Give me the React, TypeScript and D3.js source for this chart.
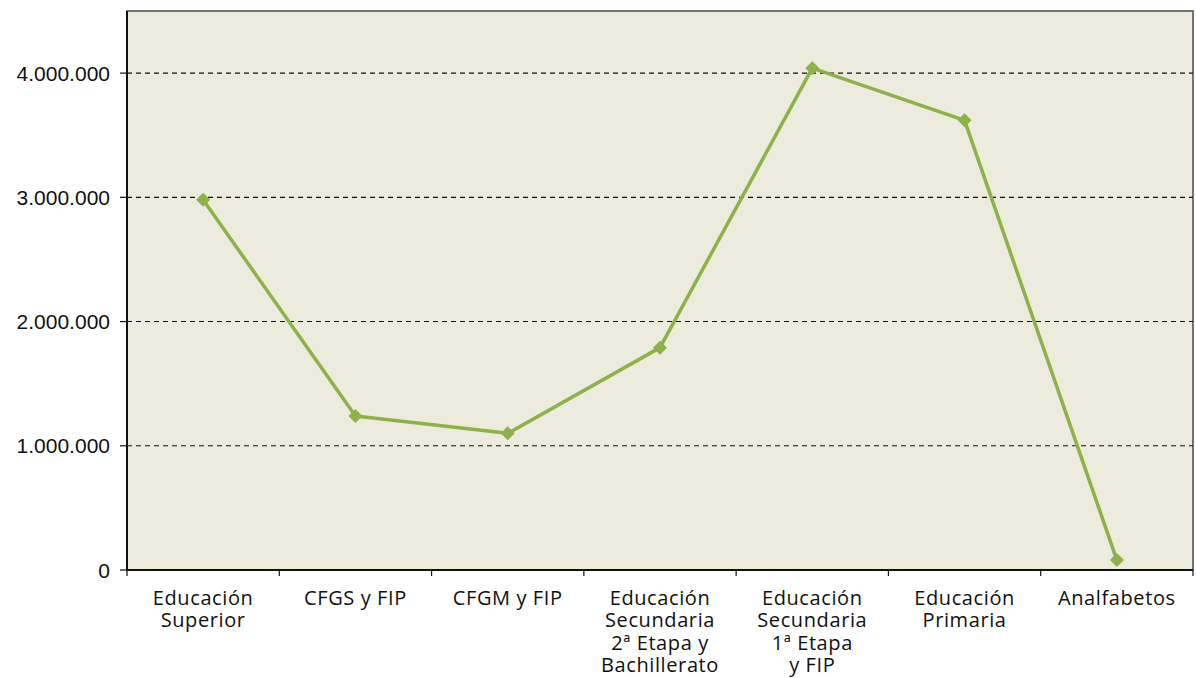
import * as d3 from 'd3'

const WIDTH = 1196
const HEIGHT = 678
const MARGIN = { top: 11, right: 3, bottom: 108, left: 127 }

const CATEGORIES = [
  ['Educación', 'Superior'],
  ['CFGS y FIP'],
  ['CFGM y FIP'],
  ['Educación', 'Secundaria', '2ª Etapa y', 'Bachillerato'],
  ['Educación', 'Secundaria', '1ª Etapa', 'y FIP'],
  ['Educación', 'Primaria'],
  ['Analfabetos'],
]
const VALUES = [2980000, 1240000, 1100000, 1790000, 4040000, 3620000, 80000]
const Y_TICKS = [0, 1000000, 2000000, 3000000, 4000000]

const GREEN = '#8db14b'

const fmt = (v: number) => (v === 0 ? '0' : d3.format(',')(v).replace(/,/g, '.'))

export default function App() {
  const innerW = WIDTH - MARGIN.left - MARGIN.right
  const innerH = HEIGHT - MARGIN.top - MARGIN.bottom
  const keys = CATEGORIES.map((_, i) => String(i))

  const x = d3.scaleBand().domain(keys).range([MARGIN.left, MARGIN.left + innerW])
  const y = d3.scaleLinear().domain([0, 4500000]).range([MARGIN.top + innerH, MARGIN.top])

  const line = d3.line<number>()
    .x((_, i) => (x(String(i)) as number) + x.bandwidth() / 2)
    .y(d => y(d))

  const bottom = y(0)

  return (
    <svg width={WIDTH} height={HEIGHT} style={{ position: 'absolute', left: 0, top: 0 }}>
      <rect x={MARGIN.left} y={MARGIN.top} width={innerW} height={innerH} fill="#ecebdd" stroke="#4a4a4a" strokeWidth={1.5} />

      {/* grid */}
      {Y_TICKS.filter(t => t > 0).map(t => (
        <line key={t} x1={MARGIN.left} x2={MARGIN.left + innerW} y1={y(t)} y2={y(t)}
          stroke="#111" strokeWidth={1.1} strokeDasharray="5,4" />
      ))}

      {/* y axis */}
      <line x1={MARGIN.left} x2={MARGIN.left} y1={MARGIN.top} y2={bottom} stroke="#111" strokeWidth={2} />
      {Y_TICKS.map(t => (
        <g key={`yt-${t}`}>
          <line x1={MARGIN.left - 7} x2={MARGIN.left} y1={y(t)} y2={y(t)} stroke="#111" strokeWidth={1.2} />
          <text x={MARGIN.left - 17} y={y(t)} textAnchor="end" dominantBaseline="central"
            fontFamily="'Liberation Sans', Arial, sans-serif" fontSize={21} fill="#111">
            {fmt(t)}
          </text>
        </g>
      ))}

      {/* x axis */}
      <line x1={MARGIN.left} x2={MARGIN.left + innerW} y1={bottom} y2={bottom} stroke="#111" strokeWidth={2} />
      {keys.map(k => (
        <line key={`xt-${k}`} x1={x(k) as number} x2={x(k) as number} y1={bottom} y2={bottom + 6}
          stroke="#111" strokeWidth={1.2} />
      ))}
      <line x1={MARGIN.left + innerW} x2={MARGIN.left + innerW} y1={bottom} y2={bottom + 6} stroke="#111" strokeWidth={1.2} />
      {CATEGORIES.map((lines, i) => (
        <text key={`xl-${i}`} x={(x(String(i)) as number) + x.bandwidth() / 2} y={bottom + 35}
          textAnchor="middle" fontFamily="'Open Sans', 'Noto Sans', sans-serif" fontSize={20}
          letterSpacing={0.6} fill="#111">
          {lines.map((l, j) => (
            <tspan key={j} x={(x(String(i)) as number) + x.bandwidth() / 2} dy={j === 0 ? 0 : 22.4}>{l}</tspan>
          ))}
        </text>
      ))}

      {/* series */}
      <path d={line(VALUES) || ''} fill="none" stroke={GREEN} strokeWidth={3.5} strokeLinejoin="round" />
      {VALUES.map((v, i) => {
        const cx = (x(String(i)) as number) + x.bandwidth() / 2
        const cy = y(v)
        return (
          <path key={`m-${i}`} d={`M${cx},${cy - 7}L${cx + 7},${cy}L${cx},${cy + 7}L${cx - 7},${cy}Z`} fill={GREEN} />
        )
      })}
    </svg>
  )
}
